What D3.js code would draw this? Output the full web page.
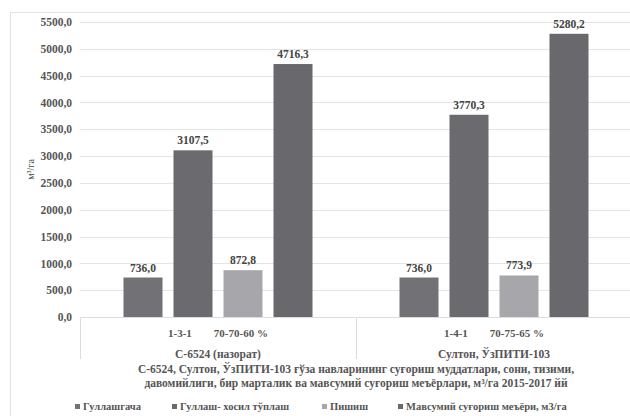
<!DOCTYPE html>
<html><head><meta charset="utf-8">
<script src="https://cdn.jsdelivr.net/npm/d3@7"></script>
<style>
body{margin:0;background:#fff;}
</style></head>
<body><svg id="c" width="630" height="416" font-family="'Liberation Serif', 'Times New Roman', 'DejaVu Serif', serif"></svg>
<script>
const groups = ["С-6524 (назорат)", "Султон, ЎзПИТИ-103"];
const innerLabels = ["1-3-1        70-70-60 %", "1-4-1        70-75-65 %"];
const seriesNames = ["Гуллашгача", "Гуллаш- хосил тўплаш", "Пишиш", "Мавсумий суғориш меъёри, м3/га"];
const seriesColors = ["#717176", "#6a6a6f", "#a7a7ab", "#68686d"];
const series0 = [736.0, 736.0];
const series1 = [3107.5, 3770.3];
const series2 = [872.8, 773.9];
const series3 = [4716.3, 5280.2];
const yTicks = [0,500,1000,1500,2000,2500,3000,3500,4000,4500,5000,5500];
const titleLines = ["С-6524, Султон, ЎзПИТИ-103 ғўза навларининг суғориш муддатлари, сони, тизими,",
                    "давомийлиги, бир марталик ва мавсумий суғориш меъёрлари, м³/га 2015-2017 йй"];
const yTitle = "м³/га";

const FONT = "'Liberation Serif', 'Times New Roman', 'DejaVu Serif', serif";
const allSeries = [series0, series1, series2, series3];
const svg = d3.select("#c");
const fmt = v => d3.format(".1f")(v).replace(".", ",");

// frame
svg.append("rect").attr("x",10.5).attr("y",12.5).attr("width",640).attr("height",420)
  .attr("fill","none").attr("stroke","#e2e2e2");

const pL = 80, pR = 632, pT = 22, pB = 317;
const y = d3.scaleLinear().domain([0,5500]).range([pB, pT]);
const x0 = d3.scaleBand().domain(groups).range([pL, pR]);
const x1 = d3.scaleBand().domain(d3.range(4)).range([0, x0.bandwidth()]).paddingInner(0.22).paddingOuter(0.87);

// grid
svg.append("g").selectAll("line").data(yTicks.slice(1)).join("line")
  .attr("x1",pL).attr("x2",pR).attr("y1",d=>Math.round(y(d))+0.5).attr("y2",d=>Math.round(y(d))+0.5)
  .attr("stroke","#e4e4e4");

// y axis labels
const ya = svg.append("g").attr("transform",`translate(${pL},0)`)
  .call(d3.axisLeft(y).tickValues(yTicks).tickFormat(fmt).tickSize(0).tickPadding(8));
ya.attr("font-family", FONT);
ya.select(".domain").remove();
ya.selectAll("text").attr("font-size",11.5).attr("fill","#555").attr("font-family",FONT).attr("font-weight","bold");

svg.append("text").attr("transform",`translate(34,${(pT+pB)/2}) rotate(-90)`)
  .attr("text-anchor","middle").attr("font-size",10).attr("fill","#444").attr("font-family",FONT).text(yTitle);

// bars
const gg = svg.append("g").selectAll("g").data(groups).join("g")
  .attr("transform",d=>`translate(${x0(d)},0)`);
gg.each(function(g, gi){
  const sel = d3.select(this);
  allSeries.forEach((s, si) => {
    const v = s[gi];
    sel.append("rect").attr("x",x1(si)).attr("width",x1.bandwidth())
      .attr("y",y(v)).attr("height",y(0)-y(v)).attr("fill",seriesColors[si]);
    sel.append("text").attr("x",x1(si)+x1.bandwidth()/2).attr("y",y(v)-6)
      .attr("text-anchor","middle").attr("font-size",11.5).attr("font-weight","bold")
      .attr("font-family",FONT).attr("fill","#444").text(fmt(v));
  });
});

// category axis
svg.append("line").attr("x1",pL).attr("x2",pR).attr("y1",pB+0.5).attr("y2",pB+0.5).attr("stroke","#dcdcdc");
svg.append("g").selectAll("line").data([pL, x0(groups[1]), pR]).join("line")
  .attr("x1",d=>Math.round(d)+0.5).attr("x2",d=>Math.round(d)+0.5).attr("y1",pB).attr("y2",pB+42)
  .attr("stroke","#dcdcdc");
svg.append("g").selectAll("text").data(groups).join("text")
  .attr("x",d=>x0(d)+x0.bandwidth()/2).attr("y",pB+20)
  .attr("text-anchor","middle").attr("font-size",11).attr("font-weight","bold").attr("fill","#555")
  .attr("font-family",FONT).style("white-space","pre").text((d,i)=>innerLabels[i]);
svg.append("g").selectAll("text").data(groups).join("text")
  .attr("x",d=>x0(d)+x0.bandwidth()/2).attr("y",pB+41)
  .attr("text-anchor","middle").attr("font-size",11.5).attr("font-weight","bold").attr("fill","#555")
  .attr("font-family",FONT).text(d=>d);

// title
svg.append("g").selectAll("text").data(titleLines).join("text")
  .attr("x",(pL+pR)/2).attr("y",(d,i)=>373+i*14)
  .attr("text-anchor","middle").attr("font-size",11.5).attr("font-weight","bold").attr("fill","#555")
  .attr("font-family",FONT).text(d=>d);

// legend
const legX = [75, 172, 322, 398];
const lg = svg.append("g").selectAll("g").data(seriesNames).join("g")
  .attr("transform",(d,i)=>`translate(${legX[i]},410)`);
lg.append("rect").attr("x",0).attr("y",-6).attr("width",5).attr("height",5).attr("fill",(d,i)=>seriesColors[i]);
lg.append("text").attr("x",8).attr("y",0).attr("font-size",10.5).attr("font-weight","bold").attr("fill","#555")
  .attr("font-family",FONT).text(d=>d);
</script></body></html>
